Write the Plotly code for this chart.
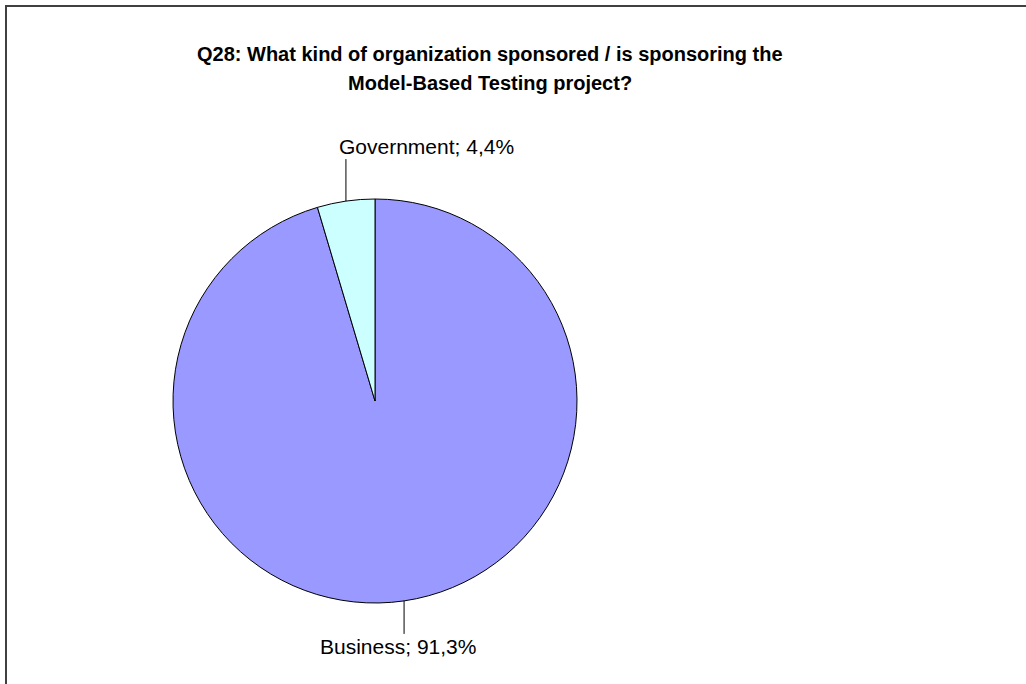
import math
import plotly.graph_objects as go

# ---- data ----
categories = ["Business", "Government"]
values = [91.3, 4.4]
label_texts = ["Business; 91,3%", "Government; 4,4%"]
colors = ["#9999FF", "#CCFFFF"]
title_lines = ["Q28: What kind of organization sponsored / is sponsoring the",
               "Model-Based Testing project?"]

# ---- layout constants (pixels) ----
W, H = 1026, 684
CX, CY, R = 375, 401, 202
LEADER = {"Business": 33, "Government": 42}

def px2paper(x, y):
    return x / W, 1 - y / H

fig = go.Figure(go.Pie(
    labels=categories, values=values, sort=False, direction="clockwise",
    rotation=0, textinfo="none", hoverinfo="label+percent",
    marker=dict(colors=colors, line=dict(color="black", width=1)),
    domain=dict(x=[(CX - R) / W, (CX + R) / W], y=[1 - (CY + R) / H, 1 - (CY - R) / H]),
    showlegend=False,
))

shapes = []
annotations = []
total = sum(values)
cum = 0.0
for cat, v, txt in zip(categories, values, label_texts):
    mid = (cum + v / 2) / total * 2 * math.pi
    cum += v
    ex = CX + R * math.sin(mid)
    ey = CY - R * math.cos(mid)
    up = math.cos(mid) > 0
    L = LEADER[cat]
    ey2 = ey - L if up else ey + L
    x0, y0 = px2paper(ex, ey)
    x1, y1 = px2paper(ex, ey2)
    shapes.append(dict(type="line", xref="paper", yref="paper", x0=x0, y0=y0, x1=x1, y1=y1,
                       line=dict(color="black", width=1)))
    if up:
        ax_, ay_ = px2paper(ex - 9, ey2 + 1)
        annotations.append(dict(x=ax_, y=ay_, xref="paper", yref="paper", text=txt,
                                showarrow=False, xanchor="left", yanchor="bottom",
                                font=dict(family="Liberation Sans, Arial", size=21, color="black")))
    else:
        ax_, ay_ = px2paper(ex - 6, ey2 - 1)
        annotations.append(dict(x=ax_, y=ay_, xref="paper", yref="paper", text=txt,
                                showarrow=False, xanchor="center", yanchor="top",
                                font=dict(family="Liberation Sans, Arial", size=21, color="black")))

# title, one annotation per line
title_tops = [41, 70]
for line, top in zip(title_lines, title_tops):
    tx, ty = px2paper(490, top)
    annotations.append(dict(x=tx, y=ty, xref="paper", yref="paper", text=line,
                            showarrow=False, xanchor="center", yanchor="top", align="center",
                            font=dict(family="Liberation Sans, Arial", size=20,
                                      color="black", weight="bold")))

# frame
shapes.append(dict(type="rect", xref="paper", yref="paper", x0=6 / W, y0=-0.05, x1=1.05, y1=1 - 6 / H,
                   line=dict(color="#404040", width=2), fillcolor="rgba(0,0,0,0)"))

fig.update_layout(width=W, height=H, margin=dict(l=0, r=0, t=0, b=0),
                  paper_bgcolor="white", plot_bgcolor="white",
                  shapes=shapes, annotations=annotations)

fig.write_html("out.html")
